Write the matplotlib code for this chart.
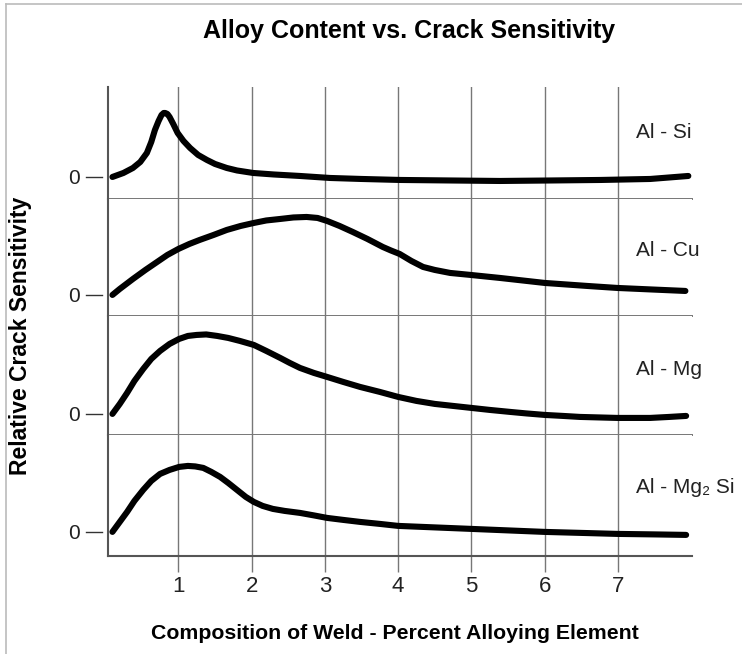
import matplotlib
matplotlib.use("Agg")
from matplotlib import pyplot as plt
from matplotlib.lines import Line2D

plt.rcParams['font.family'] = ['Liberation Sans', 'DejaVu Sans']

# curves (x = % alloying element, y = relative sensitivity)
si_x = [0.10, 0.25, 0.38, 0.48, 0.57, 0.63, 0.68, 0.73, 0.77, 0.80, 0.82, 0.85, 0.88, 0.93, 0.99, 1.07,
        1.16, 1.27, 1.39, 1.50, 1.66, 1.80, 2.02, 2.30, 2.66, 3.07, 3.50, 4.03, 4.70, 5.39, 6.10, 6.76, 7.44, 7.96]
si_y = [0.0, 0.4, 0.9, 1.5, 2.4, 3.5, 4.7, 5.6, 6.2, 6.4, 6.4, 6.3, 6.0, 5.3, 4.4, 3.6,
        2.9, 2.2, 1.7, 1.3, 0.9, 0.65, 0.4, 0.25, 0.1, -0.1, -0.2, -0.3, -0.35, -0.4, -0.35, -0.3, -0.2, 0.1]

cu_x = [0.10, 0.20, 0.38, 0.55, 0.71, 0.85, 1.00, 1.15, 1.29, 1.48, 1.66, 1.85, 2.03, 2.20, 2.39, 2.57,
        2.75, 2.90, 3.03, 3.20, 3.38, 3.58, 3.79, 3.90, 4.02, 4.18, 4.34, 4.50, 4.71, 4.99, 5.39, 6.00,
        6.58, 6.99, 7.45, 7.92]
cu_y = [0.0, 0.6, 1.6, 2.5, 3.3, 4.0, 4.6, 5.1, 5.5, 6.0, 6.5, 6.9, 7.2, 7.45, 7.6, 7.75,
        7.8, 7.7, 7.4, 6.9, 6.3, 5.6, 4.8, 4.45, 4.1, 3.4, 2.8, 2.5, 2.2, 2.0, 1.7, 1.2,
        0.9, 0.7, 0.55, 0.4]

mg_x = [0.10, 0.20, 0.30, 0.40, 0.52, 0.63, 0.75, 0.88, 1.01, 1.13, 1.25, 1.38, 1.53, 1.68, 1.84, 2.03,
        2.20, 2.39, 2.52, 2.66, 2.85, 3.03, 3.25, 3.48, 3.75, 4.00, 4.25, 4.50, 4.75, 5.00, 5.25, 5.53,
        5.75, 6.00, 6.25, 6.48, 6.99, 7.20, 7.44, 7.70, 7.93]
mg_y = [0.0, 1.0, 2.1, 3.3, 4.5, 5.5, 6.3, 7.0, 7.5, 7.8, 7.9, 7.95, 7.8, 7.6, 7.3, 6.9,
        6.3, 5.6, 5.1, 4.6, 4.1, 3.7, 3.2, 2.7, 2.2, 1.7, 1.3, 1.0, 0.8, 0.6, 0.4, 0.2,
        0.05, -0.1, -0.2, -0.3, -0.4, -0.4, -0.4, -0.3, -0.2]

mg2si_x = [0.10, 0.20, 0.30, 0.40, 0.52, 0.63, 0.75, 0.88, 1.01, 1.13, 1.23, 1.34, 1.45, 1.57, 1.68, 1.80,
           1.92, 2.03, 2.15, 2.29, 2.45, 2.66, 2.85, 3.03, 3.25, 3.48, 3.75, 4.00, 4.50, 5.00, 5.50, 6.00,
           6.50, 6.99, 7.50, 7.93]
mg2si_y = [0.0, 1.0, 2.0, 3.1, 4.2, 5.1, 5.8, 6.2, 6.5, 6.6, 6.55, 6.4, 6.0, 5.5, 4.9, 4.2,
           3.5, 3.0, 2.6, 2.3, 2.1, 1.9, 1.65, 1.4, 1.2, 1.0, 0.8, 0.6, 0.45, 0.3, 0.15, 0.0,
           -0.1, -0.2, -0.25, -0.3]

labels = ["Al - Si", "Al - Cu", "Al - Mg", "Al - Mg\u2082 Si"]
curves = [(si_x, si_y), (cu_x, cu_y), (mg_x, mg_y), (mg2si_x, mg2si_y)]
ylims = [(-2.2, 9.0), (-2.1, 9.6), (-2.1, 9.8), (-2.4, 9.7)]
xticks = [1, 2, 3, 4, 5, 6, 7]

grid_c = '#777777'
spine_c = '#555555'

fig, axes = plt.subplots(4, 1, sharex=True, figsize=(7.42, 6.54), dpi=100,
                         gridspec_kw={'height_ratios': [112, 117, 119, 121], 'hspace': 0})
fig.subplots_adjust(left=0.1456, right=0.9326, top=0.867, bottom=0.150)

for i, ax in enumerate(axes):
    x, y = curves[i]
    ax.plot(x, y, color='black', lw=4.4, solid_capstyle='round', solid_joinstyle='round', zorder=3)
    ax.set_xlim(0.04, 8.01)
    ax.set_ylim(*ylims[i])
    ax.set_xticks(xticks)
    ax.grid(axis='x', color=grid_c, lw=1.0)
    ax.set_yticks([0])
    ax.set_yticklabels(['0'])
    ax.tick_params(axis='y', length=0, pad=20, labelsize=15, labelcolor='#222222')
    # the short dash next to the zero label
    ax.plot([-0.038, -0.010], [0, 0], transform=ax.get_yaxis_transform(), clip_on=False,
            color='#333333', lw=1.0)
    ax.spines['top'].set_visible(False)
    ax.spines['right'].set_visible(False)
    ax.spines['left'].set_color(spine_c)
    ax.spines['left'].set_linewidth(1.5)
    ax.spines['bottom'].set_color(grid_c)
    ax.spines['bottom'].set_linewidth(1.4)
    ax.text(7.25, 4.4, labels[i], fontsize=15, va='center', ha='left', color='#222222')
    if i < 3:
        ax.tick_params(axis='x', length=0, labelbottom=False)

axes[-1].spines['bottom'].set_color(spine_c)
axes[-1].spines['bottom'].set_linewidth(1.5)
axes[-1].tick_params(axis='x', direction='out', length=11.5, width=1.0, color=grid_c,
                     pad=3, labelsize=16, labelcolor='#222222')

fig.text(0.551, 0.952, "Alloy Content vs. Crack Sensitivity", fontsize=18, fontweight='bold',
         ha='center', va='center')
fig.text(0.532, 0.032, "Composition of Weld - Percent Alloying Element", fontsize=15.3,
         fontweight='bold', ha='center', va='center')
fig.text(0.027, 0.487, "Relative Crack Sensitivity", fontsize=16.5, fontweight='bold',
         rotation=90, ha='center', va='center')

# light frame on top and left edges
fig.add_artist(Line2D([0.008, 1.0], [0.994, 0.994], transform=fig.transFigure, color='#bbbbbb', lw=1.2))
fig.add_artist(Line2D([0.008, 0.008], [0.0, 0.994], transform=fig.transFigure, color='#bbbbbb', lw=1.2))

plt.savefig('out.png', dpi=100)
